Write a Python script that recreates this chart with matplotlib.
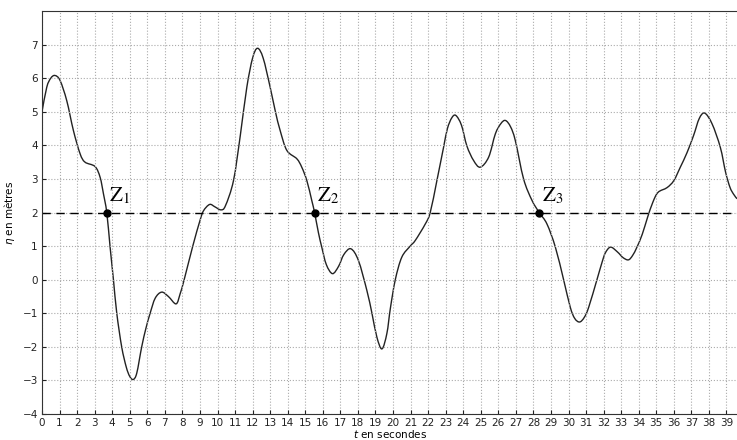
import numpy as np
import matplotlib.pyplot as plt
from matplotlib.path import Path
from matplotlib.patches import PathPatch

# Wave elevation (time in s, eta in m)
t_values = [0.0, 0.27, 0.5, 0.74, 1.03, 1.41, 1.79, 2.17, 2.45, 3.02, 3.31, 3.5, 3.69,
            3.88, 4.07, 4.26, 4.54, 4.8, 5.0, 5.2, 5.4, 5.68, 5.92, 6.16, 6.45, 6.82,
            7.2, 7.64, 7.87, 8.1, 8.59, 9.0, 9.2, 9.55, 9.85, 10.19, 10.45, 10.91,
            11.3, 11.67, 12.0, 12.28, 12.6, 13.0, 13.3, 13.57, 13.95, 14.52, 14.8,
            15.09, 15.37, 15.53, 15.75, 15.94, 16.2, 16.55, 16.9, 17.2, 17.6, 18.03,
            18.51, 18.8, 19.08, 19.37, 19.65, 19.85, 20.13, 20.5, 20.98, 21.27, 21.84,
            22.12, 22.5, 22.88, 23.1, 23.35, 23.58, 23.9, 24.21, 24.59, 24.97, 25.45,
            25.83, 26.15, 26.41, 26.7, 26.97, 27.44, 27.92, 28.33, 28.77, 29.25, 29.72,
            30.1, 30.35, 30.63, 30.9, 31.15, 31.62, 31.9, 32.1, 32.4, 32.8, 33.1, 33.41,
            33.65, 33.9, 34.2, 34.5, 34.8, 35.1, 35.61, 36.0, 36.37, 36.75, 37.13, 37.45,
            37.76, 38.18, 38.65, 38.95, 39.2, 39.4, 39.6]
eta_values = [5.0, 5.73, 6.0, 6.08, 5.93, 5.33, 4.44, 3.75, 3.5, 3.37, 3.05, 2.56, 2.0,
              0.97, 0.0, -1.0, -2.0, -2.6, -2.88, -2.97, -2.78, -2.0, -1.45, -1.0, -0.55,
              -0.37, -0.5, -0.72, -0.42, 0.0, 1.0, 1.76, 2.05, 2.24, 2.17, 2.08, 2.2,
              2.95, 4.3, 5.73, 6.6, 6.89, 6.6, 5.73, 5.0, 4.44, 3.85, 3.6, 3.35, 2.95,
              2.36, 2.0, 1.4, 0.97, 0.45, 0.18, 0.4, 0.75, 0.92, 0.57, -0.32, -1.0,
              -1.71, -2.06, -1.6, -0.85, 0.0, 0.67, 1.0, 1.17, 1.66, 2.0, 2.95, 3.94,
              4.5, 4.82, 4.89, 4.6, 3.98, 3.55, 3.35, 3.65, 4.34, 4.65, 4.74, 4.55,
              4.14, 3.0, 2.36, 2.0, 1.66, 0.97, 0.0, -0.82, -1.15, -1.26, -1.12, -0.82,
              0.0, 0.5, 0.8, 0.97, 0.82, 0.66, 0.59, 0.72, 0.97, 1.35, 1.85, 2.3, 2.6,
              2.74, 2.95, 3.35, 3.78, 4.3, 4.8, 4.96, 4.64, 3.94, 3.2, 2.75, 2.55, 2.41]

# Crossing points of the 2 m level
z_times = [3.69, 15.53, 28.33]
z_labels = ["Z", "Z", "Z"]
level = 2


def smooth_path(x, y):
    """Catmull-Rom style cubic Bezier path through the given points."""
    pts = np.column_stack([x, y])
    ext = np.vstack([pts[0], pts, pts[-1]])
    verts = [pts[0]]
    codes = [Path.MOVETO]
    for i in range(1, len(ext) - 2):
        p0, p1, p2, p3 = ext[i - 1], ext[i], ext[i + 1], ext[i + 2]
        verts += [p1 + (p2 - p0) / 6.0, p2 - (p3 - p1) / 6.0, p2]
        codes += [Path.CURVE4] * 3
    return Path(verts, codes)


fig = plt.figure(figsize=(7.37, 4.40), dpi=100)
ax = fig.add_axes([0.057, 0.059, 0.943, 0.916])

ax.add_patch(PathPatch(smooth_path(t_values, eta_values), fill=False,
                       edgecolor="#222222", linewidth=1.0))
ax.axhline(level, color="black", linestyle=(0, (6, 4)), linewidth=1.0)
ax.plot(z_times, [level] * len(z_times), "o", color="black", markersize=5)

# Z labels with subscripts
for i, tz in enumerate(z_times):
    ax.text(tz + 0.15, level + 0.33, r"$\mathrm{%s}_{%d}$" % (z_labels[i], i + 1),
            fontsize=15, color="black", ha="left", va="baseline",
            math_fontfamily="stix")

ax.set_xlim(0, 39.6)
ax.set_ylim(-4, 8)
ax.set_xticks(np.arange(0, 40, 1))
ax.set_yticks(np.arange(-4, 8, 1))
ax.grid(True, color="#aaaaaa", linestyle=":", linewidth=0.8)
ax.tick_params(direction="in", labelsize=7.5, length=3, pad=3, colors="#222222")
ax.spines["right"].set_visible(False)
for side in ["top", "left", "bottom"]:
    ax.spines[side].set_color("#333333")

ax.set_xlabel(r"$t$ en secondes", fontsize=7.5, labelpad=0)
ax.set_ylabel(r"$\eta$ en mètres", fontsize=7.5, labelpad=4)

fig.savefig("out.png", dpi=100)
